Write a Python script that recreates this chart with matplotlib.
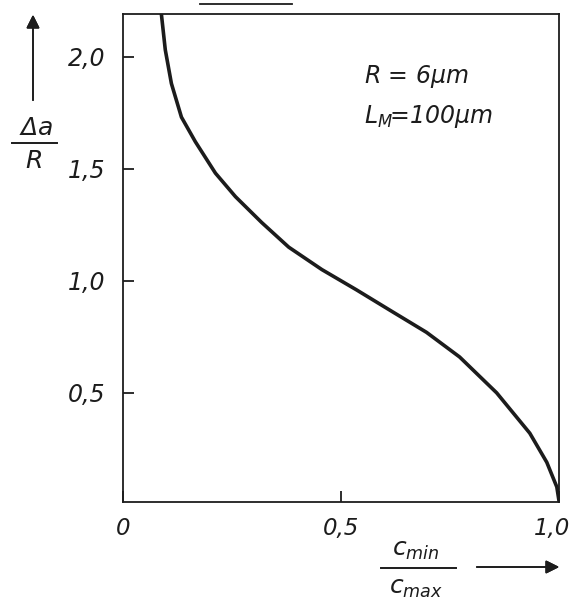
import matplotlib
matplotlib.use("Agg")
import matplotlib.pyplot as plt
import matplotlib.transforms as mtransforms
from matplotlib.lines import Line2D

# values
c_ratio = [0.088, 0.097, 0.111, 0.134, 0.166, 0.212, 0.258, 0.318, 0.380,
           0.456, 0.535, 0.611, 0.696, 0.772, 0.857, 0.933, 0.972, 0.995, 1.0]
da_over_r = [2.19, 2.03, 1.88, 1.73, 1.62, 1.48, 1.375, 1.26, 1.15,
             1.05, 0.96, 0.87, 0.77, 0.66, 0.50, 0.32, 0.19, 0.08, 0.018]

xticks = [0, 0.5, 1.0]
xticklabels = ["0", "0,5", "1,0"]
yticks = [0.5, 1.0, 1.5, 2.0]
yticklabels = ["0,5", "1,0", "1,5", "2,0"]

ink = "#1c1c1c"

plt.rcParams["mathtext.fontset"] = "custom"
plt.rcParams["mathtext.rm"] = "DejaVu Sans:italic"
plt.rcParams["mathtext.it"] = "DejaVu Sans:italic"

fig = plt.figure(figsize=(5.72, 6.04), dpi=100)
ax = fig.add_axes([123 / 572, 1 - 502 / 604, (559 - 123) / 572, (502 - 14) / 604])

ax.plot(c_ratio, da_over_r, color=ink, lw=2.6, solid_capstyle="round",
        solid_joinstyle="round")

ax.set_xlim(0, 1.0)
ax.set_ylim(0.013, 2.19)
ax.set_xticks(xticks)
ax.set_xticklabels(xticklabels, fontsize=16.5, style="italic", color=ink)
ax.set_yticks(yticks)
ax.set_yticklabels(yticklabels, fontsize=17, style="italic", color=ink)
ax.tick_params(direction="in", length=8, width=1.3, color=ink)
ax.tick_params(axis="x", pad=11)
ax.tick_params(axis="y", pad=13)
for s in ax.spines.values():
    s.set_linewidth(1.3)
    s.set_color(ink)

# the last x label sits against the page edge; nudge it inside
last = ax.get_xticklabels()[-1]
last.set_transform(last.get_transform() +
                   mtransforms.ScaledTranslation(-5 / 72, 0, fig.dpi_scale_trans))

# parameters
ax.text(0.553, 1.88, r"R = 6$\mu$m", fontsize=17, style="italic", color=ink,
        va="baseline")
ax.text(0.553, 1.705, r"$L_M\!\!=\!100\mu m$", fontsize=17, color=ink,
        va="baseline")

W, H = 572, 604

def fx(px):
    return px / W

def fy(py):
    return 1 - py / H

# y axis label: fraction with arrow above
fig.text(fx(36), fy(128), r"$\Delta a$", fontsize=18, color=ink, ha="center", va="center")
fig.add_artist(Line2D([fx(12), fx(57)], [fy(143), fy(143)], color=ink, lw=1.4))
fig.text(fx(34), fy(161), "R", fontsize=18, style="italic", color=ink, ha="center", va="center")
fig.add_artist(plt.annotate("", xy=(fx(33), fy(12)), xytext=(fx(33), fy(103)),
                            xycoords="figure fraction",
                            arrowprops=dict(arrowstyle="-|>", color=ink, lw=1.2,
                                            mutation_scale=20)))

# x axis label: fraction with arrow to the right
fig.text(fx(416), fy(550), r"$c_{min}$", fontsize=18, color=ink, ha="center", va="center")
fig.add_artist(Line2D([fx(381), fx(456)], [fy(568), fy(568)], color=ink, lw=1.4))
fig.text(fx(416), fy(588), r"$c_{max}$", fontsize=18, color=ink, ha="center", va="center")
fig.add_artist(plt.annotate("", xy=(fx(562), fy(567)), xytext=(fx(474), fy(567)),
                            xycoords="figure fraction",
                            arrowprops=dict(arrowstyle="-|>", color=ink, lw=1.2,
                                            mutation_scale=20)))

# fragment of a rule from the page above
fig.add_artist(Line2D([fx(200), fx(292)], [fy(4), fy(4)], color=ink, lw=1.3))

fig.savefig("out.png", dpi=100)
